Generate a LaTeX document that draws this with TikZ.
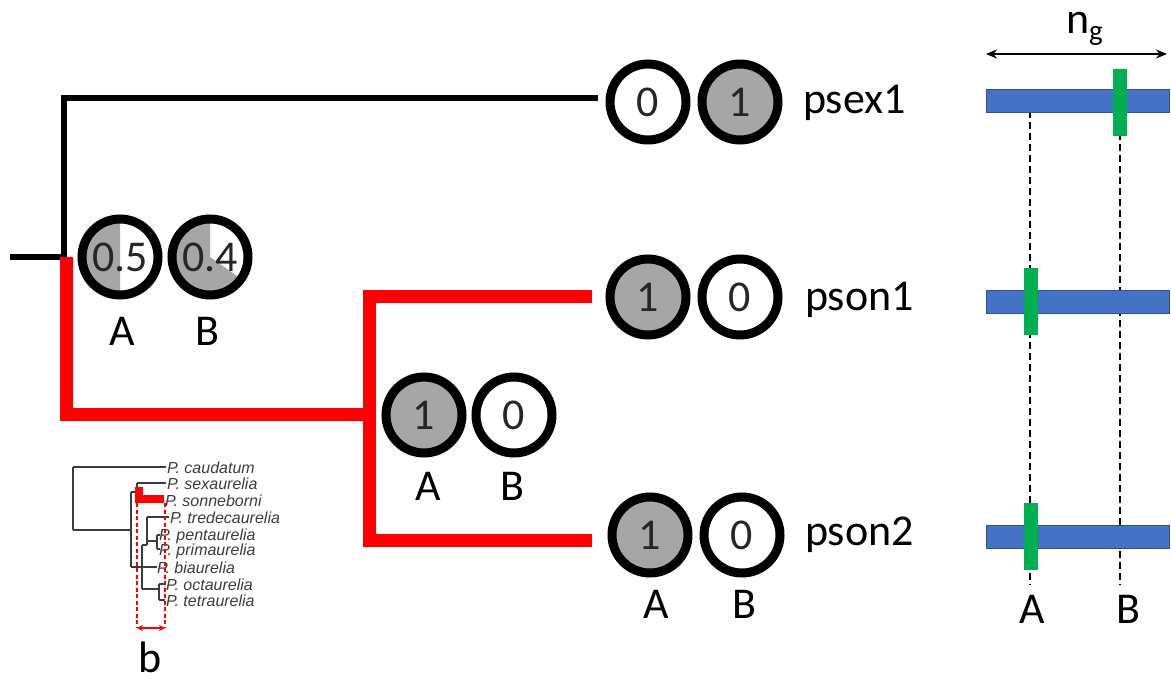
\documentclass[tikz,border=0pt]{standalone}
\usepackage{fontspec}
\setmainfont{Carlito}
\newfontfamily\insetfont{Liberation Sans}
\usetikzlibrary{arrows.meta}

\definecolor{allelegray}{HTML}{A6A6A6}
\definecolor{digit}{HTML}{262626}
\definecolor{barblue}{HTML}{4472C4}
\definecolor{baredge}{HTML}{2F528F}
\definecolor{snpgreen}{HTML}{00B050}
\definecolor{insetgray}{HTML}{3C3C3C}

\begin{document}
\begin{tikzpicture}[x=1pt,y=-1pt,
  every node/.style={inner sep=0pt, outer sep=0pt},
  allele/.style={circle, draw=black, line width=9pt, minimum size=76pt,
    font=\fontsize{44}{44}\selectfont, text=digit},
  big/.style={font=\fontsize{44}{44}\selectfont, anchor=base},
  branchblack/.style={draw=black, line width=6pt},
  branchred/.style={draw=red, line width=13pt},
  insetline/.style={draw=insetgray, line width=1.3pt},
  insetlab/.style={font=\insetfont\itshape\fontsize{16}{16}\selectfont,
    text=insetgray, anchor=base west},
  guide/.style={draw=black, line width=1.4pt, dash pattern=on 7pt off 4pt},
  chrom/.style={rectangle, fill=barblue, draw=baredge, line width=1pt,
    minimum width=183pt, minimum height=23pt},
  snp/.style={rectangle, fill=snpgreen, minimum width=14pt, minimum height=67pt}]

\useasboundingbox (0,0) rectangle (1171,680);

% ---------- main tree ----------
\coordinate (root) at (10,257);
\coordinate (n0) at (64,257);
\coordinate (n0r) at (66,257);
\coordinate (n1) at (369,414);
\coordinate (e1) at (598,98);
\coordinate (e2) at (592,296);
\coordinate (e3) at (592,540);

\draw[branchblack] (root) -- (n0);
\draw[branchblack, line join=miter] (n0) |- (e1);
\draw[branchred, line join=miter] (n0r) |- (n1);
\draw[branchred, line join=miter] (e2) -| (n1 |- e3) -- (e3);

% ---------- allele states ----------
\node[allele, fill=white] (sxA) at (648,102) {0};
\node[allele, fill=allelegray] (sxB) at (740,102) {1};
\node[big, anchor=base west] (sx) at (803,113) {psex1};

\node[allele, fill=allelegray] (s1A) at (648,297) {1};
\node[allele, fill=white] (s1B) at (740,297) {0};
\node[big, anchor=base west] (s1) at (805,310) {pson1};

\node[allele, fill=allelegray] (s2A) at (650,535) {1};
\node[allele, fill=white] (s2B) at (742,535) {0};
\node[big, anchor=base west] (s2) at (805,545) {pson2};
\node[big] (s2Al) at (656,618) {A};
\node[big] (s2Bl) at (744,618) {B};

\node[allele, fill=allelegray] (mA) at (424,415) {1};
\node[allele, fill=white] (mB) at (514,415) {0};
\node[big] (mAl) at (428,500) {A};
\node[big] (mBl) at (512,500) {B};

% ancestral probabilities as pie charts
\fill[white] (120,257) circle[radius=38];
\fill[allelegray] (120,257) -- (120,219) arc[start angle=-90, end angle=-270, radius=38] -- cycle;
\node[allele] (pA) at (120,257) {0.5};
\fill[white] (210,257) circle[radius=38];
\fill[allelegray] (210,257) -- (210,219) arc[start angle=-90, end angle=-325, radius=38] -- cycle;
\node[allele] (pB) at (210,257) {0.4};
\node[big] (pAl) at (122,345) {A};
\node[big] (pBl) at (207,345) {B};

% ---------- inset phylogeny ----------
\draw[insetline] (73,467) -- (73,530);
\draw[insetline] (73,467) -- (166,467);
\draw[insetline] (73,530) -- (131,530);
\draw[insetline] (131,492) -- (131,567);
\draw[insetline] (131,492) -- (137,492);
\draw[insetline] (137,483) -- (137,499);
\draw[insetline] (137,483) -- (166,483);
\draw[insetline] (131,567) -- (157,567);
\draw[insetline] (142,545) -- (142,589);
\draw[insetline] (142,545) -- (147,545);
\draw[insetline] (147,517) -- (147,545);
\draw[insetline] (147,517) -- (169,517);
\draw[insetline] (147,541) -- (157,541);
\draw[insetline] (157,535) -- (157,549);
\draw[insetline] (157,535) -- (160,535);
\draw[insetline] (157,549) -- (160,549);
\draw[insetline] (142,589) -- (159,589);
\draw[insetline] (159,584) -- (159,600);
\draw[insetline] (159,584) -- (165,584);
\draw[insetline] (159,600) -- (165,600);
\draw[draw=red, line width=8pt, line join=miter] (139,487) |- (164,499);

\node[insetlab] (t1) at (167,473) {P. caudatum};
\node[insetlab] (t2) at (167,489) {P. sexaurelia};
\node[insetlab] (t3) at (165,506) {P. sonneborni};
\node[insetlab] (t4) at (170,523) {P. tredecaurelia};
\node[insetlab] (t5) at (159,540) {P. pentaurelia};
\node[insetlab] (t6) at (159,555) {P. primaurelia};
\node[insetlab] (t7) at (157,573) {P. biaurelia};
\node[insetlab] (t8) at (166,590) {P. octaurelia};
\node[insetlab] (t9) at (166,606) {P. tetraurelia};

\coordinate (bl) at (137,628);
\coordinate (br) at (165,628);
\draw[red, line width=1.2pt, dash pattern=on 4pt off 2.5pt] (137,503) -- (bl);
\draw[red, line width=1.2pt, dash pattern=on 4pt off 2.5pt] (165,503) -- (br);
\draw[red, line width=1.6pt, {Stealth[length=6pt,width=6pt]}-{Stealth[length=6pt,width=6pt]}] (bl) -- (br);
\node[big] (blab) at (150,672) {b};

% ---------- genome positions ----------
\coordinate (gA0) at (1030,100);
\coordinate (gA1) at (1030,585);
\coordinate (gB0) at (1120,100);
\coordinate (gB1) at (1120,585);
\draw[guide] (gA0) -- (gA1);
\draw[guide] (gB0) -- (gB1);

\node[chrom] (bar1) at (1077.5,100.5) {};
\node[chrom] (bar2) at (1077.5,302) {};
\node[chrom] (bar3) at (1077.5,536.5) {};
\node[snp] (snp1) at (1120,102.5) {};
\node[snp] (snp2) at (1031,301) {};
\node[snp] (snp3) at (1031,536.5) {};

\coordinate (ngL) at (986,54);
\coordinate (ngR) at (1167,54);
\draw[black, line width=2.2pt, {Stealth[length=11pt,width=9pt]}-{Stealth[length=11pt,width=9pt]}] (ngL) -- (ngR);
\node[big, anchor=base west] (ng) at (1066,33) {n\raisebox{-7pt}{\fontsize{29}{29}\selectfont g}};

\node[big] (gAl) at (1032,623) {A};
\node[big] (gBl) at (1128,623) {B};
\end{tikzpicture}
\end{document}
